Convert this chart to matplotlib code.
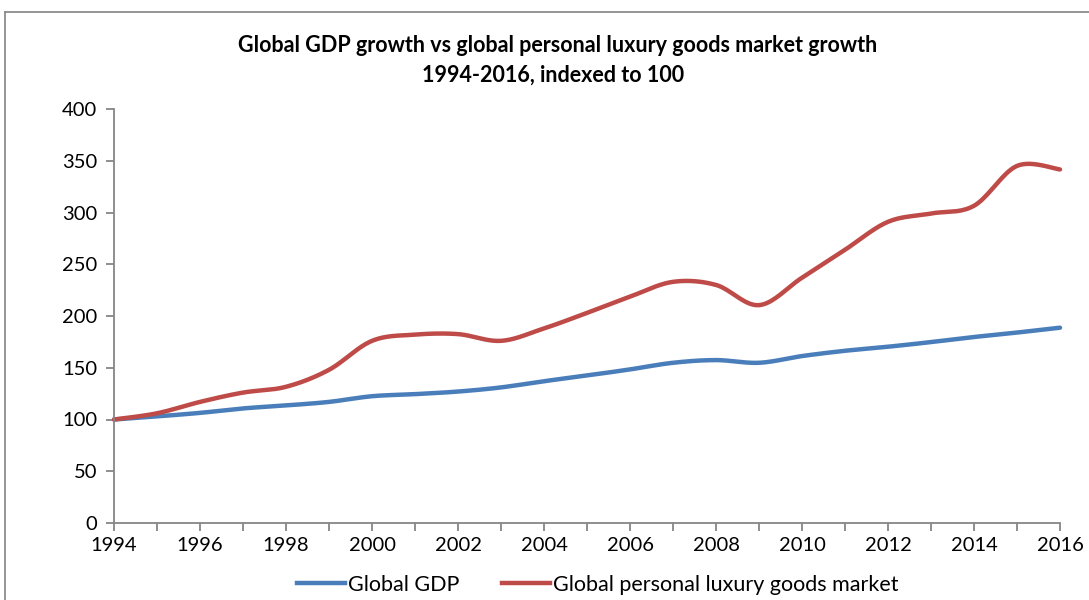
import numpy as np
import matplotlib
matplotlib.use("Agg")
import matplotlib.pyplot as plt
from matplotlib.lines import Line2D

plt.rcParams['font.family'] = ['Lato', 'DejaVu Sans']

# data, index 1994 = 100
years = list(range(1994, 2017))
gdp = [100, 103, 106.4, 110.7, 113.6, 117, 122.5, 124.5, 127, 131, 137, 142.5,
       148.4, 154.8, 157.4, 154.8, 161.3, 166.4, 170.3, 174.8, 179.7, 184, 188.7]
luxury = [100, 106, 117, 126, 131.6, 148, 176, 182, 182.5, 176, 188, 203,
          218.7, 233, 230, 210.5, 237, 264, 291, 299, 306.5, 345, 341.6]
series_names = ["Global GDP", "Global personal luxury goods market"]
colors = ["#4a7ebb", "#be4b48"]


def smooth(x, y, n=20):
    # Excel-like smoothed line: cubic bezier through points (catmull-rom tangents)
    x = np.asarray(x, float)
    y = np.asarray(y, float)
    px, py = [], []
    for i in range(len(x) - 1):
        i0 = max(i - 1, 0)
        i3 = min(i + 2, len(x) - 1)
        c1x = x[i] + (x[i + 1] - x[i0]) / 6
        c1y = y[i] + (y[i + 1] - y[i0]) / 6
        c2x = x[i + 1] - (x[i3] - x[i]) / 6
        c2y = y[i + 1] - (y[i3] - y[i]) / 6
        t = np.linspace(0, 1, n, endpoint=False)
        a, b, c, d = (1 - t) ** 3, 3 * (1 - t) ** 2 * t, 3 * (1 - t) * t ** 2, t ** 3
        px.extend(a * x[i] + b * c1x + c * c2x + d * x[i + 1])
        py.extend(a * y[i] + b * c1y + c * c2y + d * y[i + 1])
    px.append(x[-1])
    py.append(y[-1])
    return np.array(px), np.array(py)


fig = plt.figure(figsize=(10.89, 6), dpi=100)
ax = fig.add_axes([114 / 1089, 1 - 523 / 600, 946 / 1089, 414 / 600])

for vals, name, col in zip([gdp, luxury], series_names, colors):
    sx, sy = smooth(years, vals)
    ax.plot(sx, sy, color=col, lw=3.2, solid_capstyle='round', label=name, clip_on=False)

ax.set_xlim(1994, 2016)
ax.set_ylim(0, 400)
ax.set_yticks(range(0, 401, 50))
ax.set_xticks(years)
ax.set_xticklabels([str(y) if y % 2 == 0 else "" for y in years])
for s in ["top", "right"]:
    ax.spines[s].set_visible(False)
for s in ["left", "bottom"]:
    ax.spines[s].set_color("#868686")
    ax.spines[s].set_linewidth(1.3)
ax.tick_params(axis='both', direction='out', length=6, width=1.3, color="#868686",
               labelsize=14.5, labelcolor="#000000")
ax.tick_params(axis='x', pad=4)
ax.tick_params(axis='y', pad=6)

fig.text(0.512, 0.925, "Global GDP growth vs global personal luxury goods market growth",
         ha='center', va='center', fontsize=15.5, fontweight='bold')
fig.text(0.508, 0.875, "1994-2016, indexed to 100",
         ha='center', va='center', fontsize=15.5, fontweight='bold')

handles = [Line2D([], [], color=c, lw=3.2) for c in colors]
fig.legend(handles, series_names, loc='center', bbox_to_anchor=(0.549, 1 - 585 / 600),
           ncol=2, frameon=False, fontsize=15.5, handlelength=2.2, handletextpad=0.15,
           columnspacing=2.0, borderpad=0)

# outer chart frame (cut at right and bottom)
fig.add_artist(Line2D([5 / 1089, 1], [1 - 12 / 600] * 2, transform=fig.transFigure,
                      color="#8c8c8c", lw=1.3))
fig.add_artist(Line2D([5 / 1089] * 2, [0, 1 - 12 / 600], transform=fig.transFigure,
                      color="#8c8c8c", lw=1.3))

fig.savefig("out.png", dpi=100)
